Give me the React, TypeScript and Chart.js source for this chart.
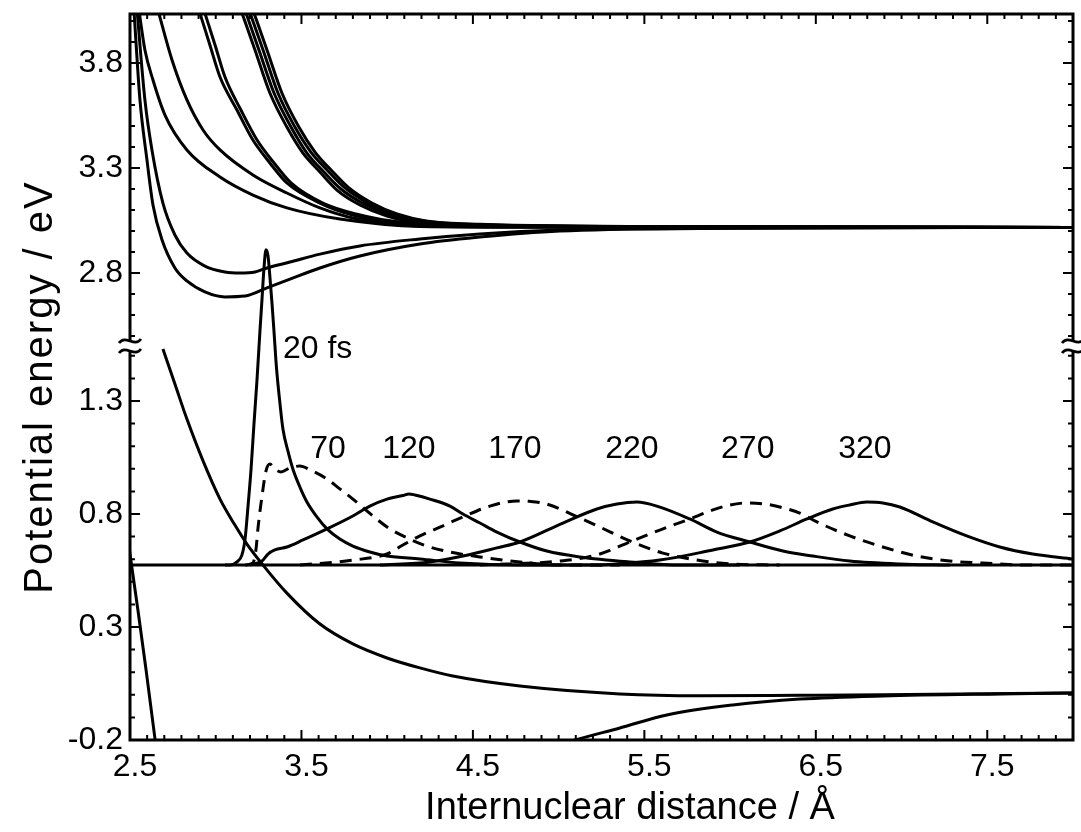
import React, { useEffect, useRef } from "react";
import { Chart, registerables } from "chart.js";

Chart.register(...registerables);

type Pt = [number, number];

// ---------- axes ----------
const xTickValues = [2.5, 3.5, 4.5, 5.5, 6.5, 7.5];
const yTickValues = [-0.2, 0.3, 0.8, 1.3, 2.8, 3.3, 3.8];
const yTickText = ["-0.2", "0.3", "0.8", "1.3", "2.8", "3.3", "3.8"];
const xTitle = "Internuclear distance / Å";
const yTitle = "Potential energy / eV";

// ---------- upper panel: excited-state potentials (R / Å, E / eV) ----------
const upperB1: Pt[] = [[2.523,4.052],[2.558,3.624],[2.599,3.338],[2.634,3.124],[2.687,2.957],[2.762,2.824],[2.832,2.762],[2.937,2.710],[3.054,2.686],[3.171,2.690],[3.299,2.729],[3.433,2.771],[3.608,2.824],[3.841,2.881],[4.191,2.938],[4.541,2.971],[5.007,3.000],[5.824,3.012],[8.0,3.017]];
const upperB2: Pt[] = [[2.541,4.052],[2.587,3.624],[2.628,3.386],[2.692,3.133],[2.762,2.981],[2.832,2.895],[2.937,2.833],[3.054,2.805],[3.141,2.800],[3.229,2.805],[3.299,2.824],[3.433,2.852],[3.608,2.890],[3.841,2.929],[4.191,2.962],[4.541,2.986],[5.007,3.005],[5.824,3.014],[8.0,3.017]];
const upperC: Pt[] = [[2.552,4.052],[2.587,3.862],[2.634,3.719],[2.704,3.552],[2.832,3.386],[3.025,3.257],[3.217,3.171],[3.415,3.110],[3.724,3.057],[4.191,3.022],[5.007,3.018],[8.0,3.017]];
const upperD: Pt[] = [[2.663,4.052],[2.745,3.814],[2.832,3.624],[2.926,3.481],[3.025,3.386],[3.217,3.267],[3.415,3.181],[3.608,3.110],[3.800,3.062],[4.191,3.024],[5.007,3.019],[8.0,3.017]];
const upperE: Pt[] = [[2.902,4.052],[2.966,3.886],[3.025,3.733],[3.124,3.576],[3.217,3.433],[3.316,3.324],[3.415,3.229],[3.608,3.133],[3.800,3.076],[4.074,3.038],[5.007,3.020],[8.0,3.017]];
const upperF: Pt[] = [[2.931,4.052],[2.996,3.886],[3.054,3.733],[3.147,3.576],[3.241,3.433],[3.340,3.324],[3.439,3.229],[3.625,3.133],[3.818,3.081],[4.074,3.043],[5.007,3.021],[8.0,3.017]];
const upperG: Pt[] = [[3.147,4.052],[3.229,3.862],[3.316,3.657],[3.415,3.495],[3.509,3.371],[3.608,3.281],[3.707,3.195],[3.841,3.124],[3.999,3.071],[4.191,3.038],[4.541,3.026],[5.824,3.019],[8.0,3.017]];
const upperH: Pt[] = [[3.171,4.052],[3.252,3.862],[3.340,3.657],[3.439,3.495],[3.532,3.371],[3.631,3.281],[3.730,3.200],[3.864,3.129],[4.016,3.076],[4.203,3.043],[4.541,3.028],[5.824,3.019],[8.0,3.017]];
const upperI: Pt[] = [[3.194,4.052],[3.276,3.862],[3.363,3.657],[3.462,3.495],[3.555,3.376],[3.655,3.286],[3.754,3.205],[3.888,3.133],[4.034,3.081],[4.214,3.048],[4.541,3.030],[5.824,3.020],[8.0,3.017]];
const upperJ: Pt[] = [[3.217,4.052],[3.299,3.862],[3.386,3.657],[3.485,3.495],[3.579,3.376],[3.678,3.286],[3.777,3.205],[3.911,3.133],[4.057,3.081],[4.226,3.048],[4.541,3.032],[5.824,3.020],[8.0,3.017]];

// ---------- lower panel: ground-state potentials ----------
const lowerRepulsive: Pt[] = [[2.692,1.530],[2.762,1.375],[2.832,1.220],[2.926,1.035],[3.025,0.866],[3.112,0.751],[3.182,0.667],[3.276,0.574],[3.415,0.450],[3.608,0.313],[3.800,0.225],[3.999,0.163],[4.191,0.119],[4.383,0.083],[4.774,0.039],[5.357,0.004],[5.824,-0.004],[6.407,-0.002],[6.891,0.000],[8.0,0.008]];
const lowerBound: Pt[] = [[5.007,-0.222],[5.095,-0.200],[5.357,-0.147],[5.631,-0.089],[6.016,-0.045],[6.407,-0.019],[6.891,-0.005],[7.573,0.004],[8.0,0.008]];
const innerWall: Pt[] = [[2.49,0.68],[2.5,0.623],[2.547,0.371],[2.593,0.114],[2.646,-0.196],[2.657,-0.262]];
const packetBaseline: Pt[] = [[2.5,0.574],[8.0,0.574]];

// ---------- wave packets (display energy) ----------
const packet20: Pt[] = [[3.054,0.574],[3.083,0.574],[3.124,0.588],[3.153,0.619],[3.171,0.689],[3.188,0.831],[3.206,0.999],[3.223,1.198],[3.241,1.397],[3.258,1.610],[3.270,1.751],[3.281,1.884],[3.293,1.969],[3.305,1.942],[3.316,1.849],[3.328,1.734],[3.340,1.606],[3.354,1.450],[3.375,1.287],[3.392,1.176],[3.421,1.079],[3.450,0.999],[3.491,0.919],[3.532,0.853],[3.590,0.787],[3.649,0.734],[3.724,0.689],[3.800,0.658],[3.899,0.632],[3.999,0.614],[4.191,0.601],[4.424,0.583],[4.774,0.574],[5.241,0.574]];
const packet70: Pt[] = [[3.171,0.574],[3.217,0.583],[3.235,0.645],[3.246,0.734],[3.270,0.880],[3.293,0.990],[3.316,1.021],[3.345,0.999],[3.380,0.986],[3.433,1.004],[3.491,1.012],[3.550,0.995],[3.649,0.955],[3.724,0.911],[3.800,0.866],[3.917,0.791],[4.016,0.734],[4.092,0.703],[4.232,0.658],[4.366,0.632],[4.541,0.610],[4.774,0.588],[5.025,0.574],[5.357,0.574]];
const packet120: Pt[] = [[3.200,0.574],[3.270,0.592],[3.305,0.623],[3.345,0.641],[3.415,0.654],[3.509,0.685],[3.649,0.734],[3.800,0.791],[3.899,0.835],[3.999,0.866],[4.092,0.882],[4.127,0.889],[4.162,0.884],[4.249,0.866],[4.366,0.835],[4.442,0.800],[4.541,0.760],[4.640,0.720],[4.774,0.676],[4.931,0.636],[5.124,0.610],[5.415,0.588],[5.707,0.574],[6.057,0.574]];
const packet170: Pt[] = [[3.491,0.574],[3.800,0.596],[3.999,0.623],[4.092,0.663],[4.191,0.703],[4.308,0.742],[4.442,0.787],[4.599,0.835],[4.757,0.858],[4.832,0.856],[4.931,0.844],[5.124,0.782],[5.241,0.742],[5.415,0.681],[5.608,0.627],[5.806,0.596],[5.999,0.579],[6.290,0.574]];
const packet220: Pt[] = [[3.958,0.574],[4.249,0.588],[4.442,0.614],[4.640,0.650],[4.774,0.676],[5.025,0.760],[5.223,0.822],[5.340,0.844],[5.456,0.853],[5.573,0.835],[5.765,0.778],[5.923,0.720],[6.115,0.676],[6.308,0.636],[6.483,0.614],[6.698,0.592],[6.990,0.579],[7.281,0.574]];
const packet270: Pt[] = [[4.541,0.574],[5.007,0.592],[5.223,0.619],[5.415,0.676],[5.590,0.729],[5.765,0.778],[5.900,0.818],[5.999,0.840],[6.098,0.849],[6.203,0.844],[6.290,0.831],[6.407,0.804],[6.506,0.765],[6.698,0.703],[6.891,0.654],[7.089,0.614],[7.281,0.592],[7.474,0.583],[7.748,0.574],[8.0,0.574]];
const packet320: Pt[] = [[5.241,0.574],[5.590,0.596],[5.900,0.641],[6.115,0.676],[6.290,0.725],[6.448,0.778],[6.599,0.822],[6.698,0.840],[6.797,0.853],[6.891,0.849],[6.990,0.831],[7.182,0.765],[7.380,0.703],[7.573,0.654],[7.765,0.623],[8.0,0.601]];

const packetLabels = ["20 fs", "70", "120", "170", "220", "270", "320"];
const packetLabelX = [3.392, 3.655, 4.127, 4.745, 5.427, 6.103, 6.786];
const packetLabelY = [1.49, 1.048, 1.048, 1.048, 1.048, 1.048, 1.048];

// ---------- broken-axis mapping ----------
const X_MIN = 2.5;
const X_MAX = 8.0;
const Y_MIN = -0.2;
const Y_MAX = 3.0124;
const UPPER_REF = 2.8;
const UPPER_REF_DISP = 1.8664;
const UPPER_GAIN = 210 / 226;
const BREAK_DISP = 1.5434;
const toDisp = (v: number) => UPPER_REF_DISP + (v - UPPER_REF) * UPPER_GAIN;

const FONT = '"Liberation Sans", Arial, Helvetica, sans-serif';

function drawBreak(ctx: CanvasRenderingContext2D, x: number, y: number) {
  ctx.save();
  ctx.fillStyle = "#fff";
  ctx.fillRect(x - 4, y - 5, 8, 10);
  ctx.strokeStyle = "#000";
  ctx.lineWidth = 2.8;
  for (const dy of [-5, 5]) {
    ctx.beginPath();
    ctx.moveTo(x - 11, y + dy + 2);
    ctx.bezierCurveTo(x - 4, y + dy - 7, x + 4, y + dy + 7, x + 11, y + dy - 2);
    ctx.stroke();
  }
  ctx.restore();
}

const decorPlugin = {
  id: "decor",
  afterDatasetsDraw(chart: any) {
    const { ctx, chartArea: a, scales } = chart;
    const xs = scales.x;
    const ys = scales.y;
    ctx.save();
    ctx.strokeStyle = "#000";
    ctx.lineWidth = 2;
    ctx.beginPath();
    for (let i = 1; i < 55; i++) {
      const v = 2.5 + i / 10;
      const px = xs.getPixelForValue(v);
      const len = i % 10 === 0 ? 10 : 5;
      ctx.moveTo(px, a.bottom);
      ctx.lineTo(px, a.bottom - len);
      ctx.moveTo(px, a.top);
      ctx.lineTo(px, a.top + len);
    }
    const marks: [number, boolean][] = [];
    for (let j = 1; j <= 17; j++) marks.push([-0.2 + j / 10, j % 5 === 0]);
    for (let k = 0; k <= 15; k++) marks.push([toDisp(2.5 + k / 10), (k - 3) % 5 === 0]);
    for (const [d, major] of marks) {
      const py = ys.getPixelForValue(d);
      if (py < a.top + 2 || py > a.bottom - 2) continue;
      const len = major ? 10 : 5;
      ctx.moveTo(a.left, py);
      ctx.lineTo(a.left + len, py);
      ctx.moveTo(a.right, py);
      ctx.lineTo(a.right - len, py);
    }
    ctx.stroke();
    ctx.lineWidth = 3;
    ctx.strokeRect(a.left, a.top, a.right - a.left, a.bottom - a.top);

    const by = ys.getPixelForValue(BREAK_DISP);
    drawBreak(ctx, a.left, by);
    drawBreak(ctx, a.right, by);

    ctx.fillStyle = "#000";
    ctx.font = `32px ${FONT}`;
    ctx.textBaseline = "alphabetic";
    packetLabels.forEach((t, i) => {
      ctx.textAlign = i === 0 ? "left" : "center";
      ctx.fillText(t, xs.getPixelForValue(packetLabelX[i]), ys.getPixelForValue(packetLabelY[i]));
    });

    ctx.font = `38px ${FONT}`;
    ctx.textAlign = "center";
    ctx.fillText(xTitle, 630, 819);

    ctx.save();
    ctx.translate(52, 387);
    ctx.rotate(-Math.PI / 2);
    ctx.font = `40px ${FONT}`;
    (ctx as any).letterSpacing = "2px";
    ctx.textAlign = "center";
    ctx.fillText(yTitle, 0, 0);
    ctx.restore();
    ctx.restore();
  },
};

function line(pts: Pt[], upper: boolean, dashed = false) {
  return {
    data: pts.map(([x, y]) => ({ x, y: upper ? toDisp(y) : y })),
    borderColor: "#000",
    borderWidth: 3,
    borderDash: dashed ? [12, 8] : [],
    pointRadius: 0,
    fill: false,
    cubicInterpolationMode: "monotone" as const,
    clip: 0,
  };
}

export default function App() {
  const ref = useRef<HTMLCanvasElement>(null);
  useEffect(() => {
    document.body.style.margin = "0";
    const datasets = [
      ...[upperB1, upperB2, upperC, upperD, upperE, upperF, upperG, upperH, upperI, upperJ].map((p) => line(p, true)),
      line(lowerRepulsive, false),
      line(lowerBound, false),
      line(innerWall, false),
      line(packetBaseline, false),
      line(packet20, false),
      line(packet70, false, true),
      line(packet120, false),
      line(packet170, false, true),
      line(packet220, false),
      line(packet270, false, true),
      line(packet320, false),
    ];
    const tickFont = { family: FONT, size: 32 };
    const chart = new Chart(ref.current as HTMLCanvasElement, {
      type: "line",
      data: { datasets: datasets as any },
      plugins: [decorPlugin],
      options: {
        responsive: false,
        animation: false,
        maintainAspectRatio: false,
        layout: { padding: { top: 14, right: 8, left: 0, bottom: 0 } },
        plugins: { legend: { display: false }, tooltip: { enabled: false } },
        scales: {
          x: {
            type: "linear",
            min: X_MIN,
            max: X_MAX,
            grid: { display: false, drawTicks: false },
            border: { display: false },
            ticks: {
              font: tickFont,
              color: "#000",
              padding: 8,
              labelOffset: 5,
              autoSkip: false,
              maxRotation: 0,
              callback: (v: any) => Number(v).toFixed(1),
            },
            afterBuildTicks: (s: any) => {
              s.ticks = xTickValues.map((v) => ({ value: v }));
            },
            afterFit: (s: any) => {
              s.height = 92;
              s.paddingLeft = 0;
              s.paddingRight = 0;
            },
          },
          y: {
            type: "linear",
            min: Y_MIN,
            max: Y_MAX,
            grid: { display: false, drawTicks: false },
            border: { display: false },
            ticks: {
              font: tickFont,
              color: "#000",
              padding: 7,
              autoSkip: false,
              callback: (_v: any, i: number) => yTickText[i],
            },
            afterBuildTicks: (s: any) => {
              s.ticks = yTickValues.map((v) => ({ value: v < 2 ? v : toDisp(v) }));
            },
            afterFit: (s: any) => {
              s.width = 130;
              s.paddingTop = 0;
              s.paddingBottom = 0;
            },
          },
        },
      } as any,
    });
    return () => chart.destroy();
  }, []);
  return <canvas ref={ref} width={1081} height={832} style={{ display: "block" }} />;
}
